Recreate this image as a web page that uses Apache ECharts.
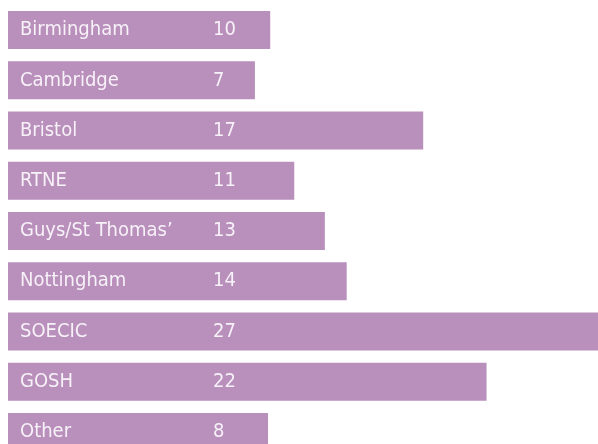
<!DOCTYPE html>
<html>
<head>
<meta charset="utf-8">
<script src="https://cdn.jsdelivr.net/npm/echarts@6/dist/echarts.min.js"></script>
<style>
  html, body { margin: 0; padding: 0; background: #fff; }
  #chart { width: 598px; height: 444px; }
</style>
</head>
<body>
<div id="chart"></div>
<script>
// centres, top to bottom
var centres = ['Birmingham', 'Cambridge', 'Bristol', 'RTNE', 'Guys/St Thomas\u2019', 'Nottingham', 'SOECIC', 'GOSH', 'Other']
// numbers printed on the bars
var counts = [10, 7, 17, 11, 13, 14, 27, 22, 8]
// bar lengths as drawn in the picture (not proportional to the printed counts)
var barLengths = [12.0, 11.3, 19.0, 13.1, 14.5, 15.5, 27.0, 21.9, 11.9]

var chart = echarts.init(document.getElementById('chart'))

var font = "'DejaVu Sans Condensed', 'Liberation Sans', sans-serif"
var textColor = '#f7f1f8'

var option = {
  animation: false,
  grid: { left: 8, right: 0, top: 5, height: 452, outerBoundsMode: 'none', containLabel: false },
  xAxis: {
    type: 'value',
    min: 0,
    max: 27,
    show: false
  },
  yAxis: {
    type: 'category',
    data: centres,
    inverse: true,
    show: false
  },
  series: [{
    type: 'bar',
    data: barLengths,
    barWidth: 38,
    itemStyle: { color: '#b98fbc' },
    label: {
      show: true,
      position: 'insideLeft',
      distance: 12,
      fontFamily: font,
      fontSize: 20,
      color: textColor,
      formatter: function (p) {
        return '{n|' + p.name + '}{v|' + counts[p.dataIndex] + '}'
      },
      rich: {
        n: { width: 193, fontFamily: font, fontSize: 20, color: textColor },
        v: { fontFamily: font, fontSize: 20, color: textColor }
      }
    }
  }]
}

chart.setOption(option)
</script>
</body>
</html>
